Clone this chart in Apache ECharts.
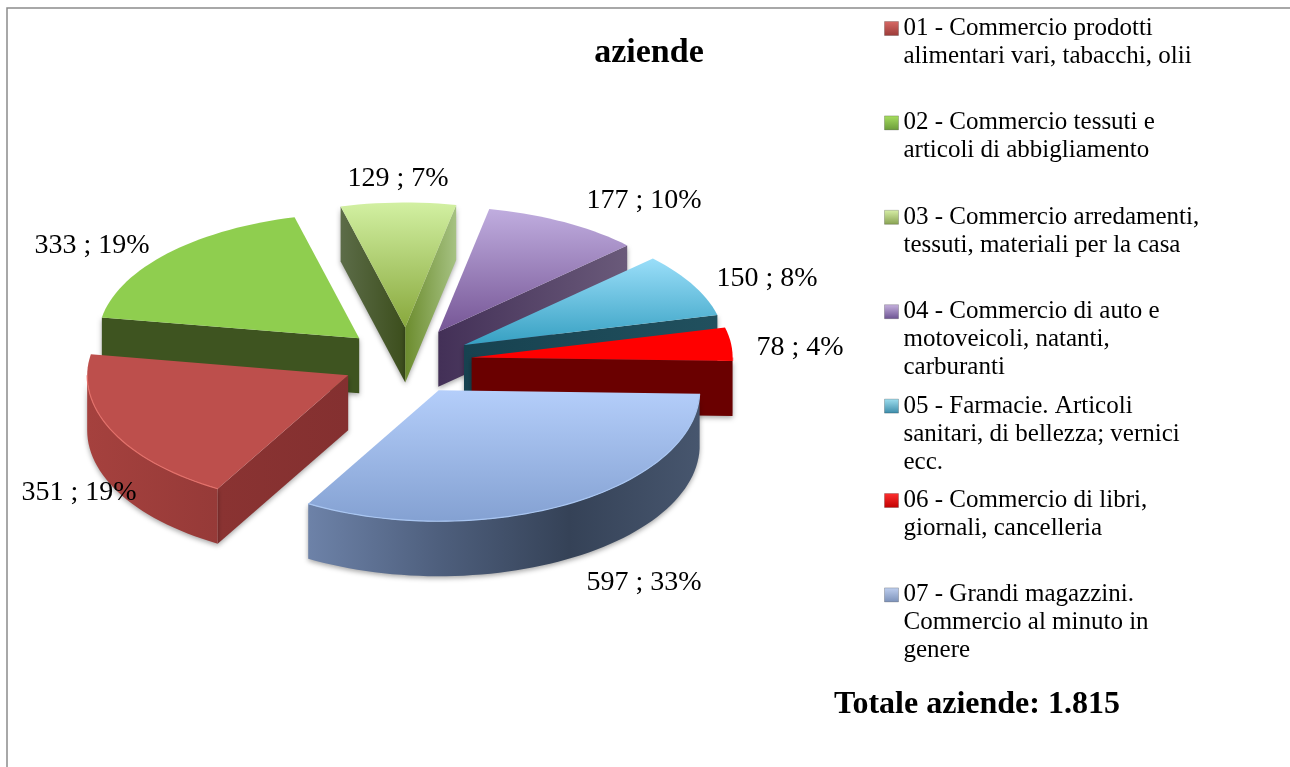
<!DOCTYPE html>
<html>
<head>
<meta charset="utf-8">
<title>aziende</title>
<style>
html,body{margin:0;padding:0;background:#fff}
#chart{width:1290px;height:767px}
</style>
<script src="https://cdn.jsdelivr.net/npm/echarts@6/dist/echarts.min.js"></script>
</head>
<body>
<div id="chart"></div>
<script>
// dati
var categories = [
    "01 - Commercio prodotti\nalimentari vari, tabacchi, olii",
    "02 - Commercio tessuti e\narticoli di abbigliamento",
    "03 - Commercio arredamenti,\ntessuti, materiali per la casa",
    "04 - Commercio di auto e\nmotoveicoli, natanti,\ncarburanti",
    "05 - Farmacie. Articoli\nsanitari, di bellezza; vernici\necc.",
    "06 - Commercio di libri,\ngiornali, cancelleria",
    "07 - Grandi magazzini.\nCommercio al minuto in\ngenere"
];
var values = [351, 333, 129, 177, 150, 78, 597];
var percents = [19, 19, 7, 10, 8, 4, 33];
var chartTitle = "aziende";
var totalText = "Totale aziende: 1.815";

// layout della torta
var FONT = '"Liberation Serif", serif';
var cx = 407, cy = 361, rx = 261, ryBack = 125, ryFront = 131, depth = 55;
var explodeX = 65, explodeY = 33.5;
var firstAngle = 120;
var labelCenters = [[79, 493], [92, 246], [398, 179], [644, 201], [767, 279], [800, 348], [644, 583]];

function vgrad(a, b) {
    return {type: 'linear', x: 0, y: 0, x2: 0, y2: 1, colorStops: [{offset: 0, color: a}, {offset: 1, color: b}]};
}
function hgrad(stops) {
    return {type: 'linear', x: 0, y: 0, x2: 1, y2: 0, colorStops: stops.map(function (c, i) {
        return {offset: i / (stops.length - 1), color: c};
    })};
}
// top, faccia iniziale, faccia finale, parete esterna, bordo
var looks = [
    {top: vgrad('#bd4f4c', '#bd4f4c'), start: hgrad(['#8a3332', '#843030']), end: '#843030', wall: hgrad(['#a5413e', '#963a38']), rim: '#e2706a', legend: vgrad('#d86a66', '#9a3a38')},
    {top: vgrad('#8fce4f', '#8fce4f'), start: '#3e5420', end: '#3e5420', wall: '#3e5420', rim: '#8fce4f', legend: vgrad('#a8e060', '#6a9a3a')},
    {top: vgrad('#d2f0a2', '#88a83c'), start: hgrad(['#5c6c48', '#3c4e1c']), end: hgrad(['#6c8c2e', '#a6c282']), wall: '#8aa050', rim: '#d2f0a2', legend: vgrad('#d8f0a8', '#86a050')},
    {top: vgrad('#c0addf', '#765696'), start: '#4a3560', end: hgrad(['#433057', '#6a5a7a']), wall: '#6a5a7a', rim: '#c0addf', legend: vgrad('#c8b4e0', '#6a5090')},
    {top: vgrad('#9adef9', '#36a0c2'), start: '#1e4855', end: hgrad(['#174250', '#21505e']), wall: '#21505e', rim: '#9adef9', legend: vgrad('#a0e0f0', '#3a8aa8')},
    {top: vgrad('#ff0000', '#ff0000'), start: '#6a0000', end: '#6a0000', wall: '#6a0000', rim: '#ff3030', legend: vgrad('#ff3030', '#c00000')},
    {top: vgrad('#b4cefa', '#84a1d2'), start: '#6a7fa5', end: '#6a7fa5', wall: hgrad(['#6d82a8', '#4e5f7d', '#354257', '#47566e']), rim: '#a9c6f2', legend: vgrad('#c0d0f0', '#7a90b8')}
];

var total = values.reduce(function (a, b) { return a + b; }, 0);
var slices = [];
var acc = firstAngle;
values.forEach(function (v) {
    var span = v / total * 360;
    slices.push({a0: acc, a1: acc + span, mid: acc + span / 2});
    acc += span;
});

function rad(a) { return a * Math.PI / 180; }

function buildSlice(i) {
    var s = slices[i], look = looks[i];
    var ox = cx + explodeX * Math.cos(rad(s.mid));
    var oy = cy + explodeY * Math.sin(rad(s.mid));
    function rim(a) {
        var sn = Math.sin(rad(a));
        return [ox + rx * Math.cos(rad(a)), oy + (sn > 0 ? ryFront : ryBack) * sn];
    }
    function arc(a0, a1) {
        var pts = [];
        var n = Math.max(2, Math.ceil((a1 - a0) / 2));
        for (var k = 0; k <= n; k++) {
            pts.push(rim(a0 + (a1 - a0) * k / n));
        }
        return pts;
    }
    function shade(fill) {
        return {fill: fill, shadowBlur: 5, shadowColor: 'rgba(0,0,0,0.35)', shadowOffsetY: 2};
    }
    var kids = [];
    function face(a, fill) {
        var e = rim(a);
        kids.push({type: 'polygon', shape: {points: [[ox, oy], e, [e[0], e[1] + depth], [ox, oy + depth]]}, style: shade(fill)});
    }
    // prima le facce di taglio visibili, poi la parete esterna e il piano
    if (Math.cos(rad(s.a0)) < 0) face(s.a0, look.start);
    if (Math.cos(rad(s.a1)) > 0) face(s.a1, look.end);
    [[0, 180], [360, 540]].forEach(function (band) {
        var from = Math.max(s.a0, band[0]), to = Math.min(s.a1, band[1]);
        if (to > from) {
            var topEdge = arc(from, to);
            var lower = topEdge.map(function (p) { return [p[0], p[1] + depth]; }).reverse();
            kids.push({type: 'polygon', shape: {points: topEdge.concat(lower)}, style: shade(look.wall)});
            kids.push({type: 'polyline', z2: 5, shape: {points: topEdge}, style: {fill: null, stroke: look.rim, lineWidth: 1.2}});
        }
    });
    kids.push({type: 'polygon', z2: 4, shape: {points: [[ox, oy]].concat(arc(s.a0, s.a1))}, style: {fill: look.top}});
    kids.push({
        type: 'text', z2: 10,
        style: {
            x: labelCenters[i][0], y: labelCenters[i][1],
            text: values[i] + ' ; ' + percents[i] + '%',
            font: '28px ' + FONT, fill: '#000', align: 'center', verticalAlign: 'middle'
        }
    });
    return {type: 'group', children: kids};
}

// le fette dietro vanno disegnate per prime
var series = values.map(function (v, i) {
    return {
        type: 'custom',
        name: categories[i],
        coordinateSystem: 'none',
        silent: true,
        animation: false,
        z: 10 + Math.round((Math.sin(rad(slices[i].mid)) + 1) * 20),
        itemStyle: {color: looks[i].legend},
        data: [v],
        renderItem: function () { return buildSlice(i); }
    };
});

// una legenda per voce: passo costante, quadratino allineato alla prima riga
var lineH = 28, legendFirst = 28.5, legendStep = 94.4;
var legends = categories.map(function (c, i) {
    var lines = c.split('\n').length;
    return {
        left: 884,
        top: legendFirst + i * legendStep - lineH * (2 * lines - 1) / 2,
        orient: 'vertical',
        padding: 0,
        itemWidth: 14,
        itemHeight: 14,
        selectedMode: false,
        icon: 'rect',
        data: [{name: c, itemStyle: {color: looks[i].legend, borderColor: 'rgba(0,0,0,0.2)', borderWidth: 1}}],
        formatter: function (name) {
            return new Array(lines).join(' \n') + name;
        },
        textStyle: {fontFamily: FONT, fontSize: 25, lineHeight: lineH, color: '#000'}
    };
});

var myChart = echarts.init(document.getElementById('chart'));
myChart.setOption({
    backgroundColor: '#fff',
    animation: false,
    title: [
        {text: chartTitle, left: 644, top: 48, textAlign: 'center', textVerticalAlign: 'middle',
            textStyle: {fontFamily: FONT, fontSize: 34, fontWeight: 'bold', color: '#000'}},
        {text: totalText, left: 972, top: 700, textAlign: 'center', textVerticalAlign: 'middle',
            textStyle: {fontFamily: FONT, fontSize: 32, fontWeight: 'bold', color: '#000'}}
    ],
    legend: legends,
    graphic: [
        {type: 'polyline', silent: true, shape: {points: [[7, 767], [7, 8], [1290, 8]]}, style: {fill: null, stroke: '#8c8c8c', lineWidth: 1.5}}
    ],
    series: series
});
</script>
</body>
</html>
